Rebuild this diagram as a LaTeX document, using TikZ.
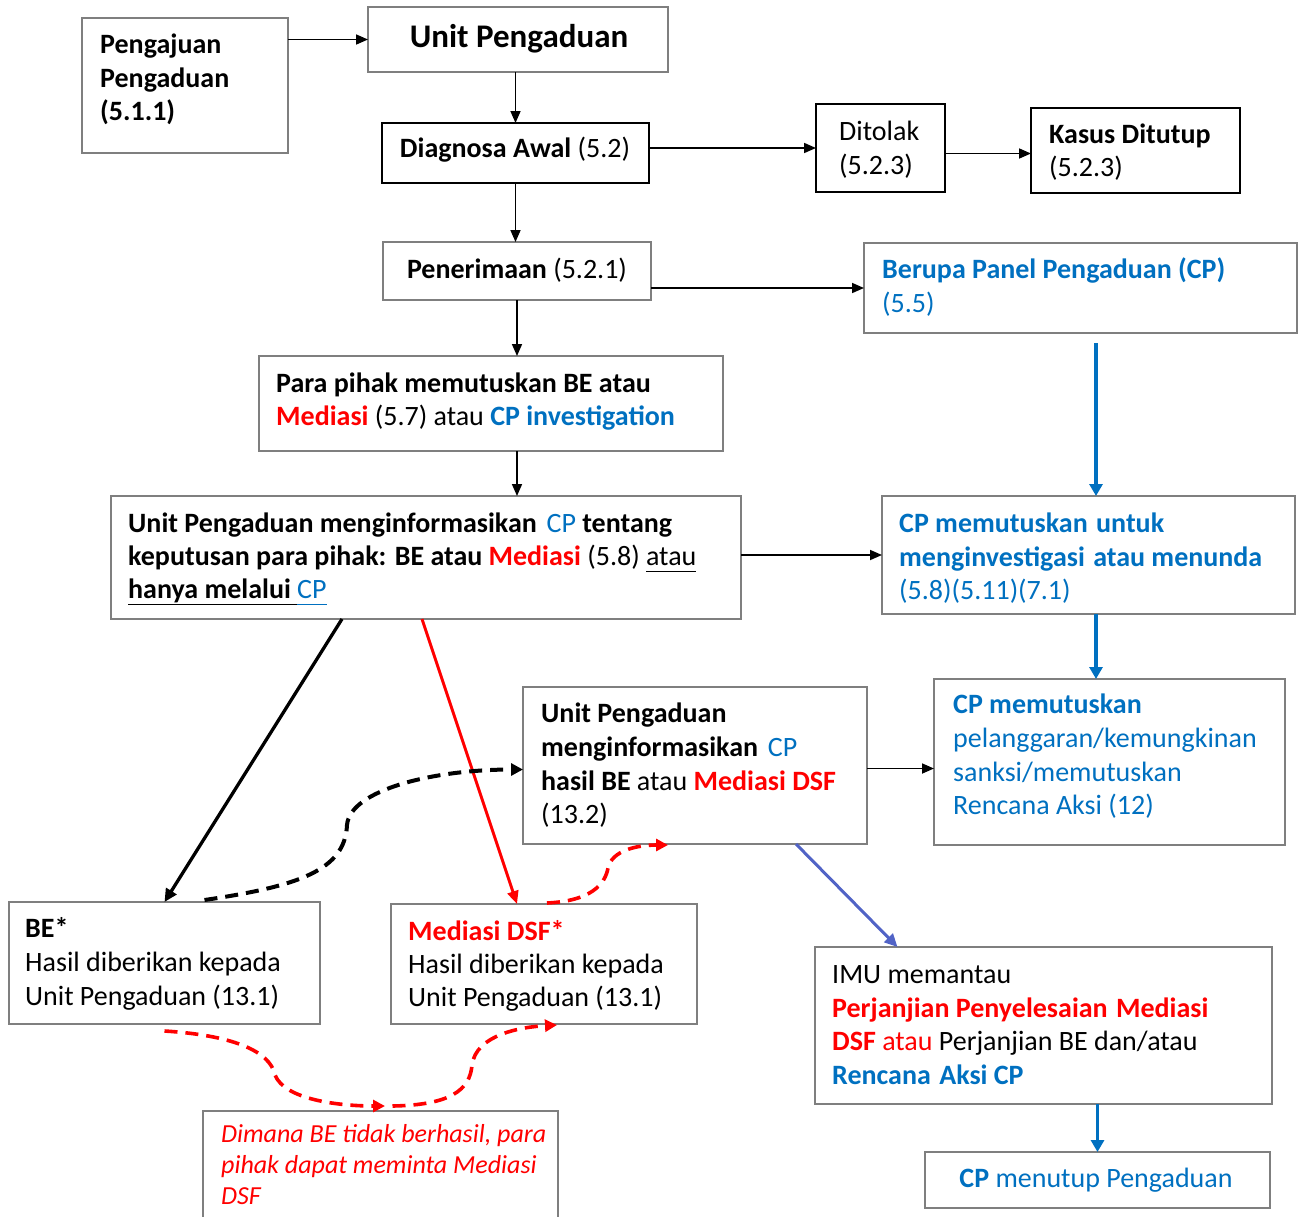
\documentclass[tikz,border=0pt]{standalone}
\usepackage{fontspec}
\setmainfont{Carlito}
\usetikzlibrary{arrows.meta,fit}
\definecolor{cpb}{HTML}{0070C0}
\definecolor{rd}{HTML}{FF0000}
\definecolor{vio}{HTML}{5163C6}
\definecolor{bgr}{HTML}{7F7F7F}
\newcommand\tline[5][]{\node[txt,#1] (#2) at (#3,#4) {#5};}
\newcommand\B[1]{\textbf{#1}}
\newcommand\CB[1]{\textcolor{cpb}{#1}}
\newcommand\RB[1]{\textcolor{rd}{#1}}
\begin{document}
\begin{tikzpicture}[x=1pt,y=-1pt,
 box/.style={draw=bgr,line width=1.5pt,inner sep=0pt,outer sep=0pt},
 bbox/.style={draw=black,line width=2pt,inner sep=0pt,outer sep=0pt},
 txt/.style={anchor=base west,inner sep=0pt,font=\fontsize{28}{34}\selectfont},
 ctxt/.style={txt,anchor=base},
 arr/.style={line width=1.7pt,-{Triangle[length=12pt,width=10pt]}},
 barr/.style={cpb,line width=3.6pt,-{Triangle[length=12pt,width=13pt]}},
 karr/.style={black,line width=3.3pt,-{Triangle[length=13pt,width=12pt]}},
 rarr/.style={rd,line width=3pt,-{Triangle[length=13pt,width=11pt]}},
 varr/.style={vio,line width=3pt,-{Triangle[length=13pt,width=12pt]}},
 kdash/.style={black,line width=4pt,dash pattern=on 13pt off 8pt,-{Triangle[length=12pt,width=12pt]}},
 rdash/.style={rd,line width=3.6pt,dash pattern=on 13pt off 8pt,-{Triangle[length=12pt,width=12pt]}}]
\useasboundingbox (0,0) rectangle (1298,1216);

% boxes
\node[box,fit={(82,18)(288,153)}] (peng) {};
\node[box,fit={(368,7)(668,72)}] (unit) {};
\node[bbox,fit={(382,123)(649,183)}] (diag) {};
\node[bbox,fit={(816,104)(945,192)}] (dit) {};
\node[bbox,fit={(1031,108)(1240,193)}] (kas) {};
\node[box,fit={(383,242)(651,300)}] (pen) {};
\node[box,fit={(864,243)(1297,333)}] (ber) {};
\node[box,fit={(259,356)(723,451)}] (para) {};
\node[box,fit={(111,496)(741,619)}] (inf) {};
\node[box,fit={(882,496)(1295,614)}] (cpinv) {};
\node[box,fit={(934,679)(1285,845)}] (cpdec) {};
\node[box,fit={(523,687)(867,844)}] (mid) {};
\node[box,fit={(9,902)(320,1024)}] (be) {};
\node[box,fit={(391,904)(697,1024)}] (med) {};
\node[box,fit={(815,947)(1272,1104)}] (imu) {};
\node[box,fit={(925,1152)(1270,1208)}] (close) {};
\node[box,fit={(203,1111)(558,1232)}] (dim) {};

% texts
\tline{pe1}{100}{53}{\B{Pengajuan}}
\tline{pe2}{100}{87}{\B{Pengaduan}}
\tline{pe3}{100}{120}{\B{(5.1.1)}}
\node[ctxt,font=\fontsize{33}{40}\selectfont\bfseries] (ut) at (519,47) {Unit Pengaduan};
\tline[ctxt]{dg}{515}{157}{\B{Diagnosa Awal} (5.2)}
\tline{dt1}{839}{140}{Ditolak}
\tline{dt2}{839}{174}{(5.2.3)}
\tline{ks1}{1049}{143}{\B{Kasus Ditutup}}
\tline{ks2}{1049}{176}{(5.2.3)}
\tline[ctxt]{pn}{517}{278}{\B{Penerimaan} (5.2.1)}
\tline{br1}{882}{278}{\CB{\B{Berupa Panel Pengaduan (CP)}}}
\tline{br2}{882}{312}{\CB{(5.5)}}
\tline{pa1}{276}{392}{\B{Para pihak memutuskan BE atau}}
\tline{pa2}{276}{425}{\RB{\B{Mediasi}} (5.7) atau \CB{\B{CP investigation}}}
\tline{in1}{128}{532}{\B{Unit Pengaduan menginformasikan}\hspace{0.35em}\CB{CP} \B{tentang}}
\tline{in2}{128}{565}{\B{keputusan para pihak: BE atau} \RB{\B{Mediasi}} (5.8) \underline{atau\vphantom{y}}}
\tline{in3}{128}{598}{\underline{\B{hanya melalui}\ }\CB{\underline{CP\vphantom{y}}}}
\tline{ci1}{899}{532}{\CB{\B{CP memutuskan\hspace{0.3em}untuk}}}
\tline{ci2}{899}{566}{\CB{\B{menginvestigasi\hspace{0.3em}atau menunda}}}
\tline{ci3}{899}{599}{\CB{(5.8)(5.11)(7.1)}}
\tline{md1}{541}{722}{\B{Unit Pengaduan}}
\tline{md2}{541}{756}{\B{menginformasikan}\hspace{0.35em}\CB{CP}}
\tline{md3}{541}{790}{\B{hasil BE} atau \RB{\B{Mediasi DSF}}}
\tline{md4}{541}{823}{(13.2)}
\tline{cd1}{953}{713}{\CB{\B{CP memutuskan}}}
\tline{cd2}{953}{747}{\CB{pelanggaran/kemungkinan}}
\tline{cd3}{953}{781}{\CB{sanksi/memutuskan}}
\tline{cd4}{953}{814}{\CB{Rencana Aksi (12)}}
\tline{be1}{25}{937}{\B{BE*}}
\tline{be2}{25}{971}{Hasil diberikan kepada}
\tline{be3}{25}{1005}{Unit Pengaduan (13.1)}
\tline{me1}{408}{940}{\RB{\B{Mediasi DSF*}}}
\tline{me2}{408}{973}{Hasil diberikan kepada}
\tline{me3}{408}{1006}{Unit Pengaduan (13.1)}
\tline{im1}{832}{983}{IMU memantau}
\tline{im2}{832}{1017}{\RB{\B{Perjanjian Penyelesaian\hspace{0.3em}Mediasi}}}
\tline{im3}{832}{1050}{\RB{\B{DSF} atau} Perjanjian BE dan/atau}
\tline{im4}{832}{1084}{\CB{\B{Rencana\hspace{0.3em}Aksi CP}}}
\tline[ctxt]{cl}{1096}{1187}{\CB{\B{CP} menutup Pengaduan}}
\tline[font=\fontsize{26}{31}\selectfont\itshape]{dm1}{221}{1142}{\RB{Dimana BE tidak berhasil, para}}
\tline[font=\fontsize{26}{31}\selectfont\itshape]{dm2}{221}{1173}{\RB{pihak dapat meminta Mediasi}}
\tline[font=\fontsize{26}{31}\selectfont\itshape]{dm3}{221}{1204}{\RB{DSF}}

% connectors
\draw[arr] (peng.east |- unit.west) -- (unit.west);
\draw[arr] (unit.south -| diag.north) -- (diag.north);
\draw[arr] (diag.east |- dit.west) -- (dit.west);
\draw[arr] ([yshift=-3pt]dit.east |- kas.west) -- ([yshift=-3pt]kas.west);
\draw[arr] (diag.south) -- (diag.south |- pen.north);
\draw[arr] (pen.east |- ber.west) -- (ber.west);
\draw[arr] (pen.south) -- (pen.south |- para.north);
\draw[arr] (para.south -| pen.south) -- (inf.north -| pen.south);
\coordinate (b1) at ([xshift=15.5pt,yshift=-10pt]ber.south);
\draw[barr] (b1) -- (b1 |- cpinv.north);
\draw[arr] (inf.east |- cpinv.west) -- (cpinv.west);
\draw[barr] (cpinv.south -| b1) -- (cpdec.north -| b1);
\draw[arr] ([yshift=-3pt]mid.east) -- ([yshift=-3pt]mid.east -| cpdec.west);
\draw[karr] ([xshift=-84pt]inf.south) -- (be.north);
\draw[rarr] ([xshift=-4pt]inf.south) -- ([xshift=-27pt]med.north);
\draw[kdash] ([xshift=40pt,yshift=2pt]be.north) .. controls +(95,-14) and +(-2,45) .. (347,825) .. controls +(3,-35) and +(-90,0) .. ([yshift=-4pt]mid.west);
\draw[rdash] ([xshift=3pt,yshift=1pt]med.north) .. controls +(43,-2) and +(-3,17) .. (608,868) .. controls +(4,-18) and +(-30,0) .. ([xshift=-27pt,yshift=-1pt]mid.south);
\draw[varr] ([xshift=101pt]mid.south) -- ([xshift=-146pt]imu.north);
\draw[barr] (imu.south -| close.north) -- (close.north);
\draw[rdash] ([yshift=-7pt]be.south) .. controls +(65,4) and +(-5,-25) .. (275,1075) .. controls +(10,25) and +(-45,0) .. ([xshift=4.5pt,yshift=5pt]dim.north);
\draw[rdash] ([xshift=12pt,yshift=5pt]dim.north) .. controls +(58,-1) and +(-2,25) .. (472,1065) .. controls +(4,-30) and +(-37,2) .. ([xshift=13pt,yshift=-1pt]med.south);
\end{tikzpicture}
\end{document}
